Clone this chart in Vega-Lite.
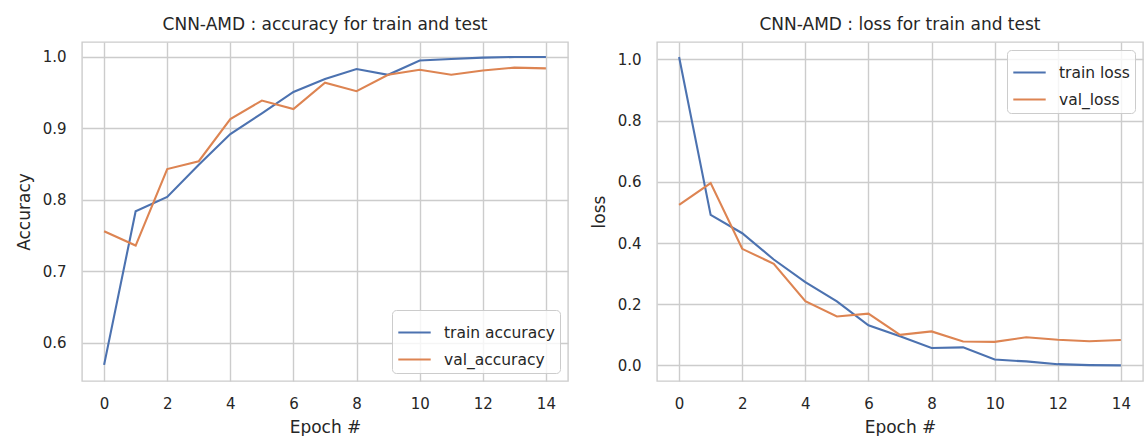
{
  "$schema": "https://vega.github.io/schema/vega-lite/v6.json",
  "background": "white",
  "padding": {"left": 14, "top": 15, "right": 0, "bottom": 0},
  "spacing": 20,
  "datasets": {
    "acc": [
      {"epoch": 0, "series": "train accuracy", "value": 0.569},
      {"epoch": 1, "series": "train accuracy", "value": 0.784},
      {"epoch": 2, "series": "train accuracy", "value": 0.804},
      {"epoch": 3, "series": "train accuracy", "value": 0.849},
      {"epoch": 4, "series": "train accuracy", "value": 0.892},
      {"epoch": 5, "series": "train accuracy", "value": 0.921},
      {"epoch": 6, "series": "train accuracy", "value": 0.951},
      {"epoch": 7, "series": "train accuracy", "value": 0.969},
      {"epoch": 8, "series": "train accuracy", "value": 0.983},
      {"epoch": 9, "series": "train accuracy", "value": 0.975},
      {"epoch": 10, "series": "train accuracy", "value": 0.995},
      {"epoch": 11, "series": "train accuracy", "value": 0.997},
      {"epoch": 12, "series": "train accuracy", "value": 0.999},
      {"epoch": 13, "series": "train accuracy", "value": 1.0},
      {"epoch": 14, "series": "train accuracy", "value": 1.0},
      {"epoch": 0, "series": "val_accuracy", "value": 0.756},
      {"epoch": 1, "series": "val_accuracy", "value": 0.736},
      {"epoch": 2, "series": "val_accuracy", "value": 0.843},
      {"epoch": 3, "series": "val_accuracy", "value": 0.854},
      {"epoch": 4, "series": "val_accuracy", "value": 0.913},
      {"epoch": 5, "series": "val_accuracy", "value": 0.939},
      {"epoch": 6, "series": "val_accuracy", "value": 0.927},
      {"epoch": 7, "series": "val_accuracy", "value": 0.964},
      {"epoch": 8, "series": "val_accuracy", "value": 0.952},
      {"epoch": 9, "series": "val_accuracy", "value": 0.975},
      {"epoch": 10, "series": "val_accuracy", "value": 0.982},
      {"epoch": 11, "series": "val_accuracy", "value": 0.975},
      {"epoch": 12, "series": "val_accuracy", "value": 0.981},
      {"epoch": 13, "series": "val_accuracy", "value": 0.985},
      {"epoch": 14, "series": "val_accuracy", "value": 0.984}
    ],
    "loss": [
      {"epoch": 0, "series": "train loss", "value": 1.008},
      {"epoch": 1, "series": "train loss", "value": 0.492},
      {"epoch": 2, "series": "train loss", "value": 0.432},
      {"epoch": 3, "series": "train loss", "value": 0.346},
      {"epoch": 4, "series": "train loss", "value": 0.272},
      {"epoch": 5, "series": "train loss", "value": 0.209},
      {"epoch": 6, "series": "train loss", "value": 0.131},
      {"epoch": 7, "series": "train loss", "value": 0.095},
      {"epoch": 8, "series": "train loss", "value": 0.057},
      {"epoch": 9, "series": "train loss", "value": 0.059},
      {"epoch": 10, "series": "train loss", "value": 0.019},
      {"epoch": 11, "series": "train loss", "value": 0.013},
      {"epoch": 12, "series": "train loss", "value": 0.004},
      {"epoch": 13, "series": "train loss", "value": 0.001},
      {"epoch": 14, "series": "train loss", "value": 0.0},
      {"epoch": 0, "series": "val_loss", "value": 0.525},
      {"epoch": 1, "series": "val_loss", "value": 0.596},
      {"epoch": 2, "series": "val_loss", "value": 0.381},
      {"epoch": 3, "series": "val_loss", "value": 0.332},
      {"epoch": 4, "series": "val_loss", "value": 0.21},
      {"epoch": 5, "series": "val_loss", "value": 0.16},
      {"epoch": 6, "series": "val_loss", "value": 0.169},
      {"epoch": 7, "series": "val_loss", "value": 0.1},
      {"epoch": 8, "series": "val_loss", "value": 0.111},
      {"epoch": 9, "series": "val_loss", "value": 0.078},
      {"epoch": 10, "series": "val_loss", "value": 0.077},
      {"epoch": 11, "series": "val_loss", "value": 0.092},
      {"epoch": 12, "series": "val_loss", "value": 0.084},
      {"epoch": 13, "series": "val_loss", "value": 0.079},
      {"epoch": 14, "series": "val_loss", "value": 0.083}
    ]
  },
  "hconcat": [
    {
      "width": 486,
      "height": 339,
      "title": {"text": "CNN-AMD : accuracy for train and test"},
      "data": {"name": "acc"},
      "mark": {"type": "line", "strokeWidth": 2.1},
      "encoding": {
        "x": {
          "field": "epoch", "type": "quantitative",
          "scale": {"domain": [-0.7, 14.7], "nice": false, "zero": false},
          "axis": {"values": [0, 2, 4, 6, 8, 10, 12, 14], "format": "d", "title": "Epoch #"}
        },
        "y": {
          "field": "value", "type": "quantitative",
          "scale": {"domain": [0.5464, 1.0209], "nice": false, "zero": false},
          "axis": {"values": [0.6, 0.7, 0.8, 0.9, 1.0], "format": ".1f", "title": "Accuracy"}
        },
        "color": {
          "field": "series", "type": "nominal",
          "scale": {"domain": ["train accuracy", "val_accuracy"], "range": ["#4c72b0", "#dd8452"]},
          "legend": {"orient": "bottom-right", "offset": 8, "title": null}
        }
      }
    },
    {
      "width": 486,
      "height": 339,
      "title": {"text": "CNN-AMD : loss for train and test"},
      "data": {"name": "loss"},
      "mark": {"type": "line", "strokeWidth": 2.1},
      "encoding": {
        "x": {
          "field": "epoch", "type": "quantitative",
          "scale": {"domain": [-0.7, 14.7], "nice": false, "zero": false},
          "axis": {"values": [0, 2, 4, 6, 8, 10, 12, 14], "format": "d", "title": "Epoch #"}
        },
        "y": {
          "field": "value", "type": "quantitative",
          "scale": {"domain": [-0.051, 1.057], "nice": false, "zero": false},
          "axis": {"values": [0, 0.2, 0.4, 0.6, 0.8, 1.0], "format": ".1f", "title": "loss"}
        },
        "color": {
          "field": "series", "type": "nominal",
          "scale": {"domain": ["train loss", "val_loss"], "range": ["#4c72b0", "#dd8452"]},
          "legend": {"orient": "top-right", "offset": 8, "title": null}
        }
      }
    }
  ],
  "resolve": {"scale": {"color": "independent"}, "legend": {"color": "independent"}},
  "config": {
    "font": "DejaVu Sans",
    "view": {"stroke": "#cccccc", "strokeWidth": 1.4},
    "axis": {
      "grid": true,
      "gridColor": "#cccccc",
      "gridWidth": 1.4,
      "domain": false,
      "ticks": false,
      "labelFont": "DejaVu Sans",
      "labelFontSize": 15,
      "labelColor": "#262626",
      "titleFont": "DejaVu Sans",
      "titleFontSize": 17,
      "titleFontWeight": "normal",
      "titleColor": "#262626"
    },
    "axisX": {"labelPadding": 15, "titlePadding": 8},
    "axisY": {"labelPadding": 16, "titlePadding": 9},
    "title": {
      "font": "DejaVu Sans",
      "fontSize": 17,
      "fontWeight": "normal",
      "color": "#262626",
      "anchor": "middle",
      "offset": 8
    },
    "legend": {
      "symbolType": "stroke",
      "symbolSize": 1050,
      "symbolStrokeWidth": 2.1,
      "labelFont": "DejaVu Sans",
      "labelFontSize": 15.5,
      "labelColor": "#262626",
      "labelOffset": 12,
      "rowPadding": 1,
      "padding": 5,
      "fillColor": "rgba(255,255,255,0.8)",
      "strokeColor": "#cccccc",
      "cornerRadius": 4
    }
  }
}
